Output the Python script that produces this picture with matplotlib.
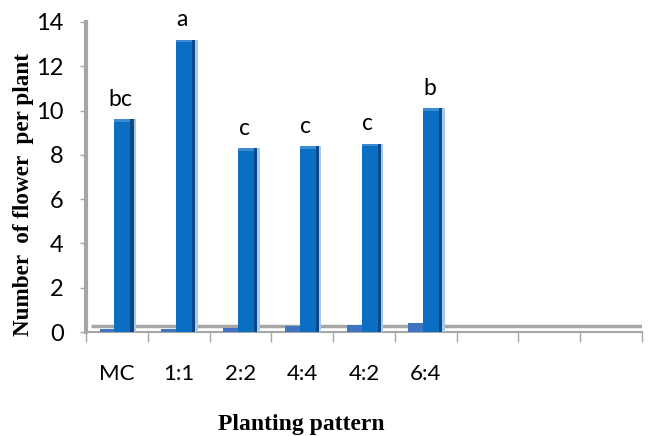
import matplotlib
matplotlib.use("Agg")
import matplotlib.pyplot as plt
import numpy as np

categories = ['MC', '1:1', '2:2', '4:4', '4:2', '6:4']
flowers = [9.6, 13.2, 8.3, 8.4, 8.5, 10.1]
minor_values = [0.15, 0.15, 0.2, 0.25, 0.3, 0.4]
letters = ['bc', 'a', 'c', 'c', 'c', 'b']
n_slots = 9
y_ticks = [0, 2, 4, 6, 8, 10, 12, 14]

tick_font = 'Lato'
label_font = 'Liberation Serif'
gray = '#A6A6A6'

fig = plt.figure(figsize=(6.48, 4.36), dpi=100)
ax = fig.add_axes([86/648, 104/436, 556/648, 310/436])
ax.set_xlim(-0.5, n_slots - 0.5)
ax.set_ylim(0, 14)

x = np.arange(len(categories))

# floor line (3D floor edge)
ax.plot([-0.42, n_slots - 0.5], [0.25, 0.25], color=gray, lw=2.5, zorder=1,
        solid_capstyle='butt')

# small series bars
ax.bar(x - 0.16, minor_values, width=0.24, color='#3E74C2', zorder=3)
# main bars: front face
ax.bar(x + 0.09, flowers, width=0.26, color='#0A6FC2', zorder=4)
# dark side face
ax.bar(x + 0.245, flowers, width=0.05, color='#0B4A86', zorder=4)
# light edge
ax.bar(x + 0.29, flowers, width=0.04, color='#A9C8E8', zorder=3)
# lighter top
ax.bar(x + 0.09, [0.12] * len(flowers), bottom=np.array(flowers) - 0.12,
       width=0.26, color='#3B8AD2', zorder=5)

for xi, v, t in zip(x, flowers, letters):
    ax.text(xi + 0.06, v + 0.6, t, ha='center', va='baseline',
            fontsize=16.5, family=tick_font, color='black')

# spines
for s in ['top', 'right']:
    ax.spines[s].set_visible(False)
ax.spines['left'].set_color(gray)
ax.spines['left'].set_linewidth(3)
ax.spines['bottom'].set_color(gray)
ax.spines['bottom'].set_linewidth(1.5)

ax.set_yticks(y_ticks)
ax.set_yticklabels([str(v) for v in y_ticks], fontsize=17, family=tick_font)
ax.tick_params(axis='y', direction='out', length=4, width=1, color=gray, pad=12)

ax.set_xticks(np.arange(-0.5, n_slots, 1.0))
ax.set_xticklabels([])
ax.tick_params(axis='x', which='major', direction='out', length=7, width=1, color=gray)
ax.set_xticks(x, minor=True)
ax.set_xticklabels(categories, minor=True, fontsize=16, family=tick_font)
ax.tick_params(axis='x', which='minor', length=0, pad=23)

fig.text(301/648, 1 - 424/436, 'Planting pattern', ha='center', va='center',
         fontsize=17, fontweight='bold', family=label_font)
fig.text(24/648, 1 - 194/436, 'Number  of flower  per plant', ha='center', va='center',
         rotation=90, fontsize=16.7, fontweight='bold', family=label_font)

fig.savefig('out.png', dpi=100)
